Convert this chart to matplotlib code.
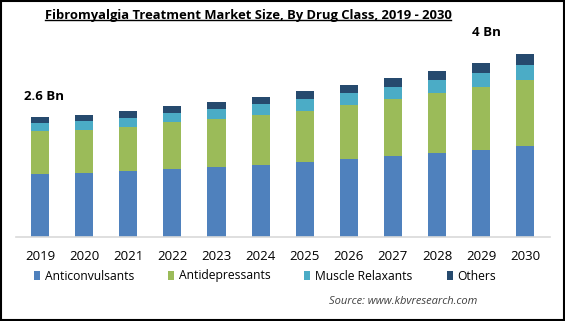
import numpy as np
import matplotlib
matplotlib.use("Agg")
from matplotlib import pyplot as plt
from matplotlib.patches import Rectangle
from matplotlib.lines import Line2D

plt.rcParams['font.family'] = ['Open Sans', 'DejaVu Sans']

years = ['2019', '2020', '2021', '2022', '2023', '2024', '2025', '2026', '2027', '2028', '2029', '2030']
anticonvulsants = [1.36, 1.39, 1.43, 1.48, 1.52, 1.56, 1.63, 1.70, 1.76, 1.83, 1.90, 1.98]
antidepressants = [0.94, 0.93, 0.96, 1.01, 1.04, 1.09, 1.12, 1.16, 1.24, 1.30, 1.36, 1.43]
muscle_relaxants = [0.18, 0.20, 0.20, 0.20, 0.22, 0.25, 0.25, 0.27, 0.26, 0.28, 0.31, 0.33]
others = [0.12, 0.14, 0.15, 0.15, 0.15, 0.15, 0.18, 0.17, 0.20, 0.19, 0.21, 0.24]

series = [('Anticonvulsants', anticonvulsants, '#4F81BD'),
          ('Antidepressants', antidepressants, '#9BBB59'),
          ('Muscle Relaxants', muscle_relaxants, '#4BACC6'),
          ('Others', others, '#264A6E')]

W, H = 565, 321
fig = plt.figure(figsize=(W / 100, H / 100), dpi=100)
ax = fig.add_axes([16 / W, (H - 237) / H, 534 / W, 207 / H])

x = np.arange(len(years))
bottom = np.zeros(len(years))
for name, vals, col in series:
    ax.bar(x, vals, 0.41, bottom=bottom, color=col, label=name)
    bottom += np.array(vals)

ax.set_xlim(-0.544, 11.56)
ax.set_ylim(0, 4.5)
for s in ['top', 'right', 'left']:
    ax.spines[s].set_visible(False)
ax.spines['bottom'].set_color('#D9D9D9')
ax.spines['bottom'].set_linewidth(1.2)
ax.set_yticks([])
ax.set_xticks(x)
ax.set_xticklabels(years, fontsize=9.5)
ax.tick_params(axis='x', length=0, pad=9)

ax.text(-0.36, 3.06, '2.6 Bn', fontsize=9.5, fontweight='bold', va='center', ha='left')
ax.text(10.11, 4.45, '4 Bn', fontsize=9.5, fontweight='bold', va='center', ha='center', clip_on=False)

title = fig.text(248 / W, 1 - 15 / H, 'Fibromyalgia Treatment Market Size, By Drug Class, 2019 - 2030',
                 fontsize=9.4, fontweight='bold', ha='center', va='center')

fig.legend(loc='center', bbox_to_anchor=(265 / W, 1 - 276 / H), ncol=4, frameon=False,
           fontsize=8.7, handlelength=0.5, handleheight=0.7, handletextpad=0.4,
           columnspacing=2.8)

fig.text(477 / W, 1 - 302 / H, 'Source: www.kbvresearch.com', fontsize=8.0, style='italic',
         color='#404040', ha='right', va='center')

# underline for the title
fig.canvas.draw()
bb = title.get_window_extent().transformed(fig.transFigure.inverted())
fig.add_artist(Line2D([bb.x0, bb.x1], [bb.y0 + 0.004, bb.y0 + 0.004], color='black', lw=1,
                      transform=fig.transFigure))

fig.add_artist(Rectangle((0.002, 0.003), 0.996, 0.994, fill=False, edgecolor='black', lw=1.5,
                         transform=fig.transFigure))

fig.savefig('out.png', dpi=100)
